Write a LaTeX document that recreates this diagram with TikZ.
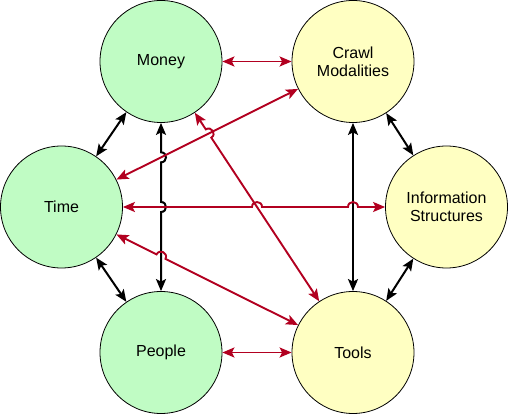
\documentclass[tikz,border=0pt]{standalone}
\usepackage{fontspec}
\setmainfont{Liberation Sans}
\usetikzlibrary{arrows.meta,calc}

\definecolor{mint}{RGB}{192,252,196}
\definecolor{cream}{RGB}{255,255,194}
\definecolor{linkred}{RGB}{178,0,32}

\begin{document}
\begin{tikzpicture}[x=1pt, y=1pt,
    >={Stealth[length=12pt,width=10pt,inset=2.5pt]},
    topic/.style={circle, draw, line width=0.8pt, minimum size=122pt, inner sep=0pt,
        align=center, font=\fontsize{16}{18}\selectfont},
    greentopic/.style={topic, fill=mint},
    yellowtopic/.style={topic, fill=cream},
    blacklink/.style={<->, line width=2pt, black},
    redlink/.style={<->, line width=1.9pt, linkred},
    hop/.style={bend left=90, looseness=1.7}]
    \useasboundingbox (0,0) rectangle (508,414);

    % Resources (green) and research side (yellow)
    \node[greentopic] (money) at (161,352.5) {Money};
    \node[greentopic] (time) at (61.5,207) {Time};
    \node[greentopic] (people) at (161,61.5) {People};
    \node[yellowtopic] (crawl) at (353,352.5) {Crawl\\Modalities};
    \node[yellowtopic] (info) at (446.5,207) {Information\\Structures};
    \node[yellowtopic] (tools) at (353,61.5) {Tools};

    % Crossing points where a line jumps over another
    \coordinate (j1) at (intersection of money--people and crawl--time);
    \coordinate (j2) at (intersection of money--people and time--info);
    \coordinate (j3) at (intersection of time--tools and money--people);
    \coordinate (j4) at (intersection of money--tools and crawl--time);
    \coordinate (j5) at (intersection of time--info and money--tools);
    \coordinate (j6) at (intersection of time--info and crawl--tools);

    % Black links
    \draw[blacklink] (money) -- (time);
    \draw[blacklink] (time) -- (people);
    \draw[blacklink] (crawl) -- (info);
    \draw[blacklink] (info) -- (tools);
    \draw[blacklink] (crawl) -- (tools);
    \draw[blacklink] (money) -- ($(j1)!5pt!(money)$) to[hop] ($(j1)!5pt!(people)$)
        -- ($(j2)!5pt!(money)$) to[hop] ($(j2)!5pt!(people)$) -- (people);

    % Red links
    \draw[redlink] (money) -- (crawl);
    \draw[redlink] (people) -- (tools);
    \draw[redlink] (crawl) -- (time);
    \draw[redlink] (time) -- ($(j5)!5pt!(time)$) to[hop] ($(j5)!5pt!(info)$)
        -- ($(j6)!5pt!(time)$) to[hop] ($(j6)!5pt!(info)$) -- (info);
    \draw[redlink] (time) -- ($(j3)!5pt!(time)$) to[hop] ($(j3)!5pt!(tools)$) -- (tools);
    \draw[redlink] (money) -- ($(j4)!5pt!(money)$) to[hop] ($(j4)!5pt!(tools)$) -- (tools);
\end{tikzpicture}
\end{document}
